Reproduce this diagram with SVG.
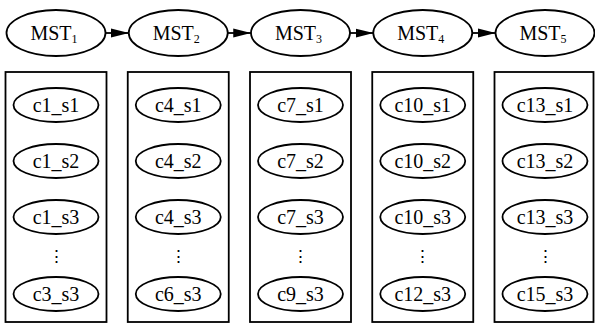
<svg xmlns="http://www.w3.org/2000/svg" width="595" height="323" viewBox="0 0 595 323">
<style>
.n{fill:#fff;stroke:#000;stroke-width:1.8}
.b{fill:none;stroke:#000;stroke-width:1.8}
.e{stroke:#000;stroke-width:1.8;fill:none}
</style>
<defs>
<marker id="ah" markerWidth="18" markerHeight="10" refX="18" refY="5" orient="auto" markerUnits="userSpaceOnUse">
<path d="M0,0.5 L18,5 L0,9.5 Z" fill="#000"/>
</marker>
</defs>
<g id="connectors">
<line class="e" x1="105.5" y1="33" x2="129" y2="33" marker-end="url(#ah)"/>
<line class="e" x1="227.75" y1="33" x2="251.25" y2="33" marker-end="url(#ah)"/>
<line class="e" x1="350" y1="33" x2="373.5" y2="33" marker-end="url(#ah)"/>
<line class="e" x1="472.25" y1="33" x2="495.75" y2="33" marker-end="url(#ah)"/>
</g>
<g font-family="Liberation Serif, Times New Roman, serif" font-size="20" text-anchor="middle" fill="#000">
<g id="MST1"><ellipse class="n" cx="56" cy="33" rx="49.5" ry="23"/><text x="54" y="40">MST<tspan font-size="12" dy="3">1</tspan></text></g>
<g id="MST2"><ellipse class="n" cx="178.25" cy="33" rx="49.5" ry="23"/><text x="176.25" y="40">MST<tspan font-size="12" dy="3">2</tspan></text></g>
<g id="MST3"><ellipse class="n" cx="300.5" cy="33" rx="49.5" ry="23"/><text x="298.5" y="40">MST<tspan font-size="12" dy="3">3</tspan></text></g>
<g id="MST4"><ellipse class="n" cx="422.75" cy="33" rx="49.5" ry="23"/><text x="420.75" y="40">MST<tspan font-size="12" dy="3">4</tspan></text></g>
<g id="MST5"><ellipse class="n" cx="545" cy="33" rx="49.5" ry="23"/><text x="543" y="40">MST<tspan font-size="12" dy="3">5</tspan></text></g>

<g id="cluster1">
<rect class="b" x="5.5" y="72" width="101" height="250"/>
<g id="c1_s1"><ellipse class="n" cx="56" cy="105" rx="42.5" ry="17"/><text x="56" y="112">c1_s1</text></g>
<g id="c1_s2"><ellipse class="n" cx="56" cy="161" rx="42.5" ry="17"/><text x="56" y="168">c1_s2</text></g>
<g id="c1_s3"><ellipse class="n" cx="56" cy="217" rx="42.5" ry="17"/><text x="56" y="224">c1_s3</text></g>
<g id="dots1"><text x="56" y="262" font-size="17" font-family="DejaVu Serif, serif">⋮</text></g>
<g id="c3_s3"><ellipse class="n" cx="56" cy="294" rx="42.5" ry="17"/><text x="56" y="301">c3_s3</text></g>
</g>
<g id="cluster2">
<rect class="b" x="127.75" y="72" width="101" height="250"/>
<g id="c4_s1"><ellipse class="n" cx="178.25" cy="105" rx="42.5" ry="17"/><text x="178.25" y="112">c4_s1</text></g>
<g id="c4_s2"><ellipse class="n" cx="178.25" cy="161" rx="42.5" ry="17"/><text x="178.25" y="168">c4_s2</text></g>
<g id="c4_s3"><ellipse class="n" cx="178.25" cy="217" rx="42.5" ry="17"/><text x="178.25" y="224">c4_s3</text></g>
<g id="dots2"><text x="178.25" y="262" font-size="17" font-family="DejaVu Serif, serif">⋮</text></g>
<g id="c6_s3"><ellipse class="n" cx="178.25" cy="294" rx="42.5" ry="17"/><text x="178.25" y="301">c6_s3</text></g>
</g>
<g id="cluster3">
<rect class="b" x="250" y="72" width="101" height="250"/>
<g id="c7_s1"><ellipse class="n" cx="300.5" cy="105" rx="42.5" ry="17"/><text x="300.5" y="112">c7_s1</text></g>
<g id="c7_s2"><ellipse class="n" cx="300.5" cy="161" rx="42.5" ry="17"/><text x="300.5" y="168">c7_s2</text></g>
<g id="c7_s3"><ellipse class="n" cx="300.5" cy="217" rx="42.5" ry="17"/><text x="300.5" y="224">c7_s3</text></g>
<g id="dots3"><text x="300.5" y="262" font-size="17" font-family="DejaVu Serif, serif">⋮</text></g>
<g id="c9_s3"><ellipse class="n" cx="300.5" cy="294" rx="42.5" ry="17"/><text x="300.5" y="301">c9_s3</text></g>
</g>
<g id="cluster4">
<rect class="b" x="372.25" y="72" width="101" height="250"/>
<g id="c10_s1"><ellipse class="n" cx="422.75" cy="105" rx="42.5" ry="17"/><text x="422.75" y="112">c10_s1</text></g>
<g id="c10_s2"><ellipse class="n" cx="422.75" cy="161" rx="42.5" ry="17"/><text x="422.75" y="168">c10_s2</text></g>
<g id="c10_s3"><ellipse class="n" cx="422.75" cy="217" rx="42.5" ry="17"/><text x="422.75" y="224">c10_s3</text></g>
<g id="dots4"><text x="422.75" y="262" font-size="17" font-family="DejaVu Serif, serif">⋮</text></g>
<g id="c12_s3"><ellipse class="n" cx="422.75" cy="294" rx="42.5" ry="17"/><text x="422.75" y="301">c12_s3</text></g>
</g>
<g id="cluster5">
<rect class="b" x="494.5" y="72" width="99" height="250"/>
<g id="c13_s1"><ellipse class="n" cx="545" cy="105" rx="42.5" ry="17"/><text x="545" y="112">c13_s1</text></g>
<g id="c13_s2"><ellipse class="n" cx="545" cy="161" rx="42.5" ry="17"/><text x="545" y="168">c13_s2</text></g>
<g id="c13_s3"><ellipse class="n" cx="545" cy="217" rx="42.5" ry="17"/><text x="545" y="224">c13_s3</text></g>
<g id="dots5"><text x="545" y="262" font-size="17" font-family="DejaVu Serif, serif">⋮</text></g>
<g id="c15_s3"><ellipse class="n" cx="545" cy="294" rx="42.5" ry="17"/><text x="545" y="301">c15_s3</text></g>
</g>
</g>
</svg>
